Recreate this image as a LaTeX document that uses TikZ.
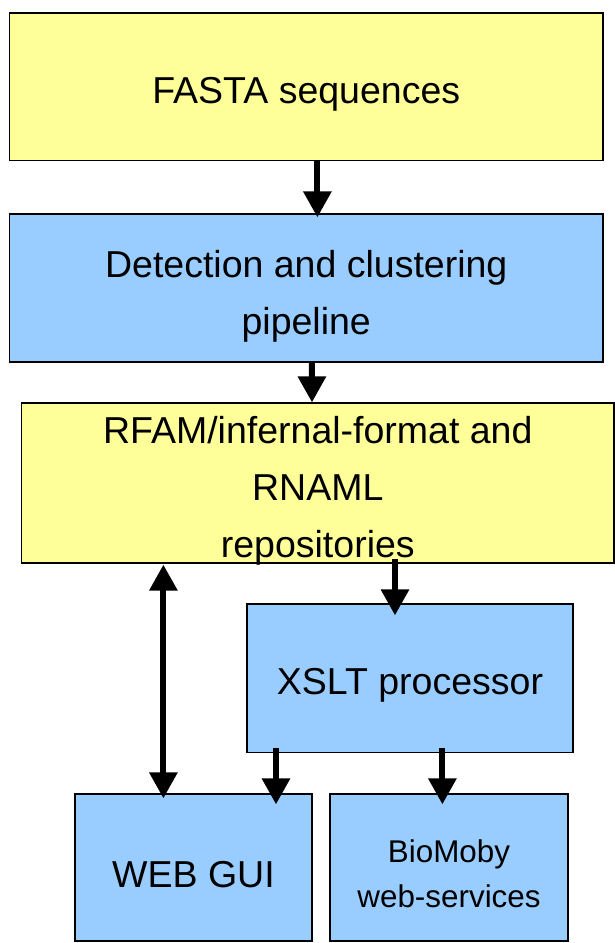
\documentclass[tikz,border=0pt]{standalone}
\usepackage{fontspec}
\setmainfont{Liberation Sans}
\usetikzlibrary{arrows.meta,calc}
\definecolor{boxyellow}{HTML}{FFFF99}
\definecolor{boxblue}{HTML}{99CCFF}
\begin{document}
\begin{tikzpicture}[x=1pt,y=-1pt,
  box/.style={draw=black,line width=1.2pt,inner sep=0pt},
  ybox/.style={box,fill=boxyellow},
  bbox/.style={box,fill=boxblue},
  txt/.style={align=center,font=\fontsize{37.5}{57}\selectfont,inner sep=0pt},
  stxt/.style={align=center,font=\fontsize{31.4}{45}\selectfont,inner sep=0pt},
  arr/.style={line width=6pt,-{Triangle[width=27pt,length=26pt]}},
  darr/.style={line width=6pt,{Triangle[width=27pt,length=26pt]}-{Triangle[width=27pt,length=26pt]}}]
\useasboundingbox (0,0) rectangle (615,943);
% boxes
\node[ybox,minimum width=593.5pt,minimum height=147.5pt] (f) at (306.25,86.75) {};
\node[bbox,minimum width=593.5pt,minimum height=148pt] (d) at (306.25,288) {};
\node[ybox,minimum width=592.4pt,minimum height=160pt] (r) at (317.8,483) {};
\node[bbox,minimum width=326pt,minimum height=148.5pt] (x) at (410,678.25) {};
\node[bbox,minimum width=237pt,minimum height=147pt] (w) at (193.5,867.5) {};
\node[bbox,minimum width=238pt,minimum height=147pt] (b) at (449,867.5) {};
% texts
\node[txt] (ft) at ([yshift=-8pt]f.center) {FASTA sequences};
\node[txt] (dt) at ([yshift=-8pt]d.center) {Detection and clustering\\pipeline};
\node[txt] (rt) at ([yshift=-8pt]r.center) {RFAM/infernal-format and\\RNAML\\repositories};
\node[txt] (xt) at ([yshift=-7pt]x.center) {XSLT processor};
\node[txt] (wt) at ([yshift=-7pt]w.center) {WEB GUI};
\node[stxt] (bt) at ([yshift=-6pt]b.center) {BioMoby\\web-services};
% connectors
\draw[arr] ($(f.south west)+(308.5,0)$) -- ($(d.north west)+(308.5,4)$);
\draw[arr] ($(d.south west)+(303,0)$) -- ($(r.north west)+(291,0)$);
\draw[darr] ($(r.south west)+(142.4,1)$) -- ($(w.north west)+(89,5)$);
\draw[arr] ($(r.south west)+(374,-5)$) -- ($(x.north west)+(148.6,12)$);
\draw[arr] ($(x.south west)+(29.6,-5)$) -- ($(w.north west)+(201.6,11)$);
\draw[arr] ($(x.south west)+(196,-5)$) -- ($(b.north west)+(113,11)$);
\end{tikzpicture}
\end{document}
